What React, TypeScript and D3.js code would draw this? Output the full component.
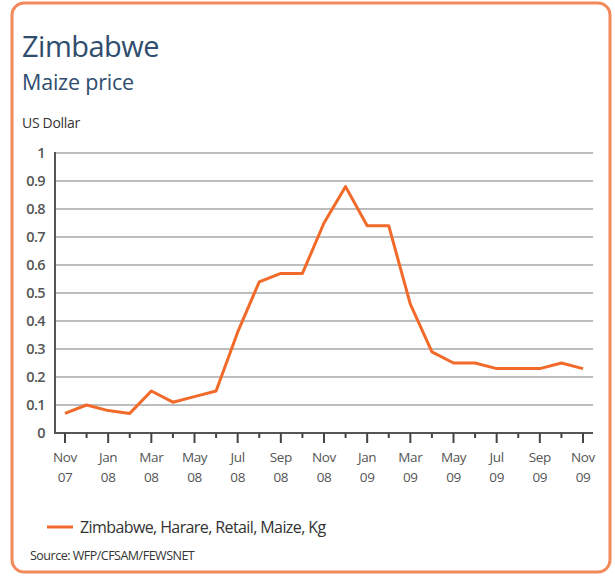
import React from "react";
import * as d3 from "d3";

const months = [
  "Nov 07","Dec 07","Jan 08","Feb 08","Mar 08","Apr 08","May 08","Jun 08","Jul 08","Aug 08","Sep 08","Oct 08",
  "Nov 08","Dec 08","Jan 09","Feb 09","Mar 09","Apr 09","May 09","Jun 09","Jul 09","Aug 09","Sep 09","Oct 09","Nov 09",
];
const prices = [
  0.07, 0.10, 0.08, 0.07, 0.15, 0.11, 0.13, 0.15, 0.36, 0.54, 0.57, 0.57,
  0.75, 0.88, 0.74, 0.74, 0.46, 0.29, 0.25, 0.25, 0.23, 0.23, 0.23, 0.25, 0.23,
];
const yTicks = [0, 0.1, 0.2, 0.3, 0.4, 0.5, 0.6, 0.7, 0.8, 0.9, 1];
const seriesName = "Zimbabwe, Harare, Retail, Maize, Kg";

export default function App() {
  const W = 615, H = 577;
  const x0 = 55, x1 = 593, yTop = 153, yBot = 433;
  const x = d3.scaleLinear().domain([0, months.length - 1]).range([65, 583]);
  const y = d3.scaleLinear().domain([0, 1]).range([yBot, yTop]);
  const line = d3.line<number>().x((_, i) => x(i)).y((d) => y(d));
  const font = "'Open Sans', 'Noto Sans', sans-serif";
  const orange = "#f26a2a";
  const fmt = (v: number) => (v === 0 ? "0" : v === 1 ? "1" : String(Math.round(v * 10) / 10));
  return (
    <svg width={W} height={H} style={{ position: "absolute", left: 0, top: 0, background: "#fff" }} fontFamily={font}>
      <rect x={12} y={3} width={598} height={569} rx={12} ry={12} fill="#fff" stroke="#f28a5c" strokeWidth={3} />
      <text x={22} y={57} fontSize={29} fill="#2f4d6e" letterSpacing={-0.5}>Zimbabwe</text>
      <text x={22} y={90} fontSize={21.5} fill="#2f4d6e" letterSpacing={-0.2}>Maize price</text>
      <text x={22} y={128} fontSize={14} fill="#333" letterSpacing={-0.3}>US Dollar</text>
      {yTicks.map((t) => (
        <g key={t}>
          {t > 0 && <line x1={x0} x2={x1} y1={y(t)} y2={y(t)} stroke="#bdbdbd" strokeWidth={2} />}
          <text x={45} y={y(t)} dy="0.35em" textAnchor="end" fontSize={14.5} fontWeight={600} fill="#555" letterSpacing={-0.6}>{fmt(t)}</text>
        </g>
      ))}
      <line x1={x0} x2={x0} y1={yTop - 1} y2={yBot + 1} stroke="#555" strokeWidth={2} />
      <line x1={x0 - 1} x2={x1} y1={yBot} y2={yBot} stroke="#555" strokeWidth={2} />
      {months.map((m, i) => {
        const major = i % 2 === 0;
        const [mo, yr] = m.split(" ");
        return (
          <g key={m}>
            <line x1={x(i)} x2={x(i)} y1={yBot} y2={yBot + (major ? 10 : 5)} stroke="#444" strokeWidth={2} />
            {major && (
              <text x={x(i)} y={457} textAnchor="middle" fontSize={13.5} fill="#555" letterSpacing={-0.4}>
                <tspan x={x(i)} dy="0.35em">{mo}</tspan>
                <tspan x={x(i)} dy="20">{yr}</tspan>
              </text>
            )}
          </g>
        );
      })}
      <path d={line(prices) || ""} fill="none" stroke={orange} strokeWidth={3} strokeLinejoin="round" />
      <line x1={47} x2={73} y1={527} y2={527} stroke={orange} strokeWidth={3} />
      <text x={80} y={533} fontSize={16} fill="#333" letterSpacing={-0.6}>{seriesName}</text>
      <text x={30} y={560} fontSize={12.5} fill="#333" letterSpacing={-0.5}>Source: WFP/CFSAM/FEWSNET</text>
    </svg>
  );
}
